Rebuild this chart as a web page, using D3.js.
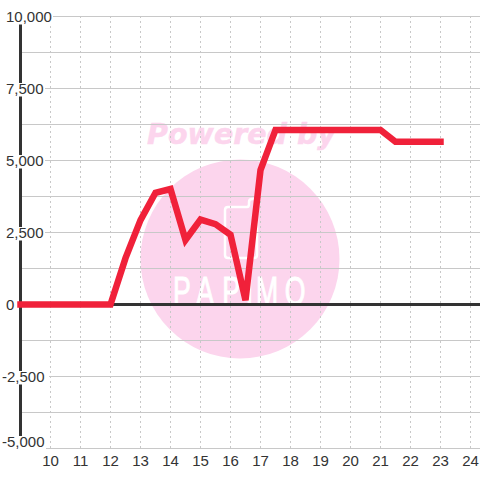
<!DOCTYPE html>
<html><head><meta charset="utf-8">
<script src="https://cdn.jsdelivr.net/npm/d3@7"></script>
<style>html,body{margin:0;padding:0;background:#fff}svg{display:block}text{font-family:"Liberation Sans",Arial,sans-serif}</style>
</head><body><svg id="c" width="480" height="480"></svg>
<script>
const hours=[9,9.5,10,10.5,11,11.5,12,12.5,13,13.5,14,14.5,15,15.5,16,16.5,17,17.5,18,18.5,19,19.5,20,20.5,21,21.5,22,22.5,23];
const values=[0,0,0,0,0,0,0,1610,2930,3880,4010,2240,2950,2790,2420,150,4670,6060,6060,6060,6060,6060,6060,6060,6060,5650,5650,5650,5650];
const xTicks=[10,11,12,13,14,15,16,17,18,19,20,21,22,23,24];
const yGrid=[-5000,-3750,-2500,-1250,0,1250,2500,3750,5000,6250,7500,8750,10000];
const yLabels=[-5000,-2500,0,2500,5000,7500,10000];
const labelText=d=>d3.format(",")(d).replace("\u2212","-");
const svg=d3.select("#c");
const x=d3.scaleLinear().domain([9,24]).range([20.5,470.5]);
const y=d3.scaleLinear().domain([-5000,10000]).range([448.5,16.5]);
// watermark under the grid
const wm=svg.append("g");
wm.append("circle").attr("cx",240).attr("cy",259).attr("r",99.5).attr("fill","#fcd5ed");
wm.append("text").attr("x",241.5).attr("y",143.5).attr("text-anchor","middle").attr("font-size",28.5).attr("font-weight","bold").attr("font-style","italic").attr("fill","#fcd5ed").attr("stroke","#fcd5ed").attr("stroke-width",0.5).style("font-family","DejaVu Sans").text("Powered by");
wm.append("path").attr("d","M225,210Q225,207 228,207L247,207Q249,207 249,204L249,202Q249,199 252,199L254,199Q257,199 257,202L257,255Q257,258 254,258L228,258Q225,258 225,255Z").attr("fill","none").attr("stroke","#fff").attr("stroke-width",2.5);
wm.append("text").attr("transform","translate(0,305) scale(0.65,1)").attr("x","266 302 342 378 394 438").attr("y",0).attr("font-size",41).attr("fill","#fff").attr("stroke","#fff").attr("stroke-width",1).text("PAPIMO");
// grid
svg.append("g").selectAll("line").data(yGrid).join("line")
 .attr("x1",20).attr("x2",480).attr("y1",d=>y(d)).attr("y2",d=>y(d))
 .attr("stroke","#c8c8c8").attr("stroke-width",1);
svg.append("g").selectAll("line").data(xTicks).join("line")
 .attr("x1",d=>x(d)).attr("x2",d=>x(d)).attr("y1",16).attr("y2",448)
 .attr("stroke","#c8c8c8").attr("stroke-width",1).attr("stroke-dasharray","2,3");
// axes
svg.append("line").attr("x1",20.5).attr("x2",20.5).attr("y1",16).attr("y2",448).attr("stroke","#333").attr("stroke-width",3);
svg.append("line").attr("x1",20).attr("x2",480).attr("y1",y(0)).attr("y2",y(0)).attr("stroke","#333").attr("stroke-width",3);
// y labels with white backing; the lowest label is pushed up to stay above the x labels
const labelBase=d=>d===-5000?447:y(d)+5.5;
const backWidth=d=>d===10000?53:d===-2500?49:d===-5000?46:d===0?15:45;
svg.append("g").selectAll("rect").data(yLabels).join("rect")
 .attr("x",0).attr("y",d=>labelBase(d)-11).attr("width",backWidth).attr("height",13.5).attr("fill","#fff");
svg.append("g").selectAll("text").data(yLabels).join("text")
 .attr("x",d=>d<0?2:6).attr("y",labelBase).attr("font-size",15).attr("fill","#333").text(labelText);
svg.append("g").selectAll("text").data(xTicks).join("text")
 .attr("x",d=>x(d)).attr("y",466).attr("text-anchor","middle").attr("font-size",15).attr("fill","#333").text(d=>d);
svg.append("path").datum(hours.map((h,i)=>[h,values[i]]))
 .attr("d",d3.line().x(d=>x(d[0])).y(d=>y(d[1])))
 .attr("fill","none").attr("stroke","#f0213a").attr("stroke-width",6.5).attr("stroke-linecap","square").attr("stroke-linejoin","miter");
</script></body></html>
